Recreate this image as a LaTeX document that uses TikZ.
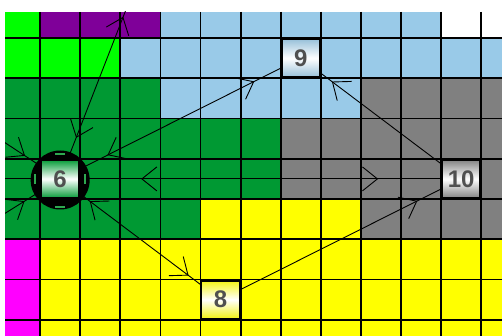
\documentclass[tikz,border=0pt]{standalone}
\usepackage{fontspec}
\setmainfont{Liberation Sans}
\usetikzlibrary{arrows.meta,decorations.markings}
\definecolor{cLime}{HTML}{00FF00}
\definecolor{cPurple}{HTML}{7F0099}
\definecolor{cSky}{HTML}{99CAE8}
\definecolor{cDk}{HTML}{009933}
\definecolor{cGray}{HTML}{808080}
\definecolor{cYel}{HTML}{FFFF00}
\definecolor{cMag}{HTML}{FF00FF}
\definecolor{cTxt}{HTML}{505050}
\definecolor{cDash}{HTML}{2EA850}
\pgfdeclarelayer{bg}
\pgfdeclarelayer{edgelayer}
\pgfsetlayers{bg,edgelayer,main}
\tikzset{
  gridline/.style={line width=1.8pt, black},
  vtx/.style={draw=black, line width=2.8pt, minimum width=39pt, minimum height=39pt,
    inner sep=0pt, font=\fontsize{24}{24}\selectfont\bfseries, text=cTxt,
    top color=#1, bottom color=#1, middle color=white},
  edge/.style={draw=black, line width=0.9pt},
  chev/.tip={Straight Barb[length=15pt,width=24pt,line width=0.9pt]},
  endtip/.style={postaction={decorate,decoration={markings,mark=at position #1 with {\arrow{chev}}}}},
  starttip/.style={postaction={decorate,decoration={markings,mark=at position #1 with {\arrowreversed{chev}}}}},
  halo/.style={circle, fill=black, minimum size=59pt, inner sep=0pt},
  dashmark/.style={cDash, line width=1.8pt},
}
\begin{document}
\begin{tikzpicture}[x=1pt,y=-1pt]
\useasboundingbox (0,0) rectangle (502,336);
\begin{pgfonlayer}{bg}
\fill[white] (0,0) rectangle (502,336);
% row 0
\fill[cLime] (5,12) rectangle (40.1,38);
\fill[cPurple] (40.1,12) rectangle (160.4,38);
\fill[cSky] (160.4,12) rectangle (441.1,38);
% row 1
\fill[cLime] (5,38) rectangle (120.3,78.25);
\fill[cSky] (120.3,38) rectangle (502,78.25);
% row 2
\fill[cDk] (5,78.25) rectangle (160.4,118.5);
\fill[cSky] (160.4,78.25) rectangle (360.9,118.5);
\fill[cGray] (360.9,78.25) rectangle (502,118.5);
% rows 3-4
\fill[cDk] (5,118.5) rectangle (280.7,199);
\fill[cGray] (280.7,118.5) rectangle (502,199);
% row 5
\fill[cDk] (5,199) rectangle (200.5,239.25);
\fill[cYel] (200.5,199) rectangle (360.9,239.25);
\fill[cGray] (360.9,199) rectangle (502,239.25);
% rows 6-8
\fill[cMag] (5,239.25) rectangle (40.1,336);
\fill[cYel] (40.1,239.25) rectangle (502,336);
% grid
\foreach \c in {1,...,12} \draw[gridline] (40.1*\c,12) -- (40.1*\c,336);
\foreach \r in {0,...,7} \draw[gridline] (5,38+40.25*\r) -- (502,38+40.25*\r);
\end{pgfonlayer}

% nodes
\node[halo] (h6) at (60.15,180) {};
\node[vtx=cDk] (n6) at (60.15,178.9) {6};
\draw[dashmark] ([shift={(-5,-24.5)}]n6.center) -- ++(10,0);
\draw[dashmark] ([shift={(-5,28)}]n6.center) -- ++(10,0);
\draw[dashmark] ([shift={(-25.5,-5)}]n6.center) -- ++(0,10);
\draw[dashmark] ([shift={(25,-5)}]n6.center) -- ++(0,10);
\node[vtx=cSky!85!gray] (n9) at (300.75,58.1) {9};
\node[vtx=cGray] (n10) at (461.15,178.9) {10};
\node[vtx=cYel!90!gray] (n8) at (220.55,299.6) {8};

% edges
\begin{pgfonlayer}{edgelayer}
\begin{scope}
\clip (5,12) rectangle (502,336);
\coordinate (t) at (132.6,-7.4);
\coordinate (w1) at (-60,100);
\coordinate (w2) at (-60,178.9);
\coordinate (w3) at (-60,254);
\path[edge, endtip=-52pt, starttip=53pt] (n6.center) -- (n9.center);
\path[edge, endtip=174pt, starttip=44pt] (n6.center) -- (t);
\path[edge, endtip=-40pt, starttip=37pt] (n6.center) -- (n8.center);
\path[edge, endtip=-49pt] (n8.center) -- (n10.center);
\path[edge, endtip=-39pt] (n10.center) -- (n9.center);
\path[edge, endtip=-83pt, starttip=81pt] (n6.center) -- (n10.center);
\path[edge, endtip=-42pt] (w1) -- (n6.center);
\path[edge] (w2) -- (n6.center);
\path[edge, endtip=-42pt] (w3) -- (n6.center);
\end{scope}
\end{pgfonlayer}
\end{tikzpicture}
\end{document}
